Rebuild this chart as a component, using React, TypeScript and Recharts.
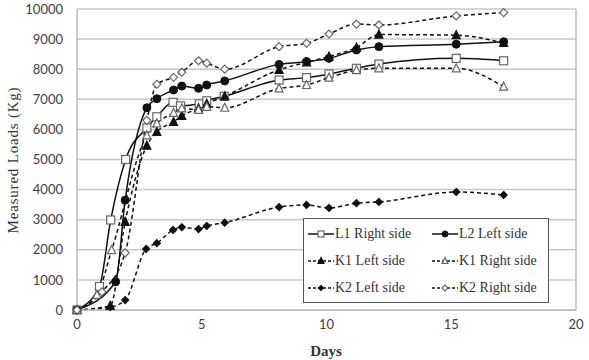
import { LineChart, Line, XAxis, YAxis, CartesianGrid, ReferenceLine } from 'recharts';

const l1RightDays = [0, 0.9, 1.35, 1.95, 2.8, 3.2, 3.85, 4.15, 4.9, 5.2, 5.9, 8.1, 9.2, 10.1, 11.2, 12.1, 15.2, 17.1];
const l1RightLoads = [0, 780, 2990, 5000, 6050, 6420, 6900, 6780, 6850, 6950, 7100, 7640, 7720, 7840, 8030, 8170, 8360, 8280];

const l2LeftDays = [0, 1.55, 1.93, 2.8, 3.2, 3.87, 4.2, 4.87, 5.2, 5.92, 8.1, 9.2, 10.1, 11.2, 12.1, 15.2, 17.1];
const l2LeftLoads = [0, 940, 3650, 6720, 7020, 7310, 7440, 7365, 7475, 7610, 8160, 8250, 8360, 8640, 8750, 8830, 8910];

const k1LeftDays = [0, 1.33, 1.93, 2.8, 3.2, 3.87, 4.2, 4.87, 5.2, 5.92, 8.1, 9.2, 10.1, 11.2, 12.1, 15.2, 17.1];
const k1LeftLoads = [0, 140, 2930, 5460, 5920, 6250, 6450, 6700, 6850, 7100, 7980, 8230, 8420, 8720, 9150, 9130, 8870];

const k1RightDays = [0, 0.8, 1.39, 2.8, 3.2, 3.87, 4.2, 4.87, 5.2, 5.92, 8.1, 9.2, 10.1, 11.2, 12.1, 15.2, 17.1];
const k1RightLoads = [0, 500, 1990, 5800, 6200, 6550, 6700, 6650, 6750, 6720, 7360, 7475, 7720, 7970, 8030, 8030, 7420];

const k2LeftDays = [0, 1.33, 1.93, 2.77, 3.2, 3.85, 4.2, 4.87, 5.2, 5.92, 8.1, 9.2, 10.1, 11.2, 12.1, 15.2, 17.1];
const k2LeftLoads = [0, 100, 330, 2030, 2220, 2660, 2750, 2690, 2790, 2900, 3420, 3490, 3390, 3550, 3590, 3920, 3820];

const k2RightDays = [0, 1.0, 1.93, 2.8, 3.2, 3.87, 4.2, 4.87, 5.2, 5.92, 8.1, 9.2, 10.1, 11.2, 12.1, 15.2, 17.1];
const k2RightLoads = [0, 600, 1900, 6300, 7500, 7730, 7900, 8280, 8200, 8000, 8750, 8860, 9170, 9500, 9470, 9770, 9880];

const xTicks = [0, 5, 10, 15, 20];
const yTicks = [0, 1000, 2000, 3000, 4000, 5000, 6000, 7000, 8000, 9000, 10000];

const pairs = (days: number[], loads: number[]) => days.map((d, i) => ({ day: d, load: loads[i] }));

const series = [
  { name: 'L1 Right side', data: pairs(l1RightDays, l1RightLoads), dash: undefined, shape: 'square', filled: false },
  { name: 'L2 Left side', data: pairs(l2LeftDays, l2LeftLoads), dash: undefined, shape: 'circle', filled: true },
  { name: 'K1 Left side', data: pairs(k1LeftDays, k1LeftLoads), dash: '4 3', shape: 'triangle', filled: true },
  { name: 'K1 Right side', data: pairs(k1RightDays, k1RightLoads), dash: '4 3', shape: 'triangle', filled: false },
  { name: 'K2 Left side', data: pairs(k2LeftDays, k2LeftLoads), dash: '4 3', shape: 'diamond', filled: true },
  { name: 'K2 Right side', data: pairs(k2RightDays, k2RightLoads), dash: '4 3', shape: 'diamond', filled: false },
];

const SERIF = '"Liberation Serif", "DejaVu Serif", serif';

function Marker({ cx, cy, shape, filled, r = 4 }: any) {
  if (cx == null || cy == null) return null;
  const fill = filled ? '#111' : '#fff';
  const stroke = filled ? '#111' : '#666';
  if (shape === 'square') return <rect x={cx - r} y={cy - r} width={2 * r} height={2 * r} fill={fill} stroke={stroke} strokeWidth={1.2} />;
  if (shape === 'circle') return <circle cx={cx} cy={cy} r={r} fill={fill} stroke={stroke} />;
  if (shape === 'triangle')
    return <polygon points={`${cx},${cy - r - 0.5} ${cx + r},${cy + r - 0.5} ${cx - r},${cy + r - 0.5}`} fill={fill} stroke={stroke} strokeWidth={1.2} />;
  const d = filled ? r - 0.5 : r;
  return <polygon points={`${cx},${cy - d} ${cx + d},${cy} ${cx},${cy + d} ${cx - d},${cy}`} fill={fill} stroke={stroke} strokeWidth={1.2} />;
}

function LegendBox() {
  return (
    <div style={{ position: 'absolute', left: 303, top: 218, border: '1.5px solid #555', background: '#fff', width: 246, height: 85, boxSizing: 'border-box', padding: '4px 0 0 4px' }}>
      <div style={{ display: 'grid', gridTemplateColumns: '124px 120px', rowGap: 5 }}>
        {series.map((s) => (
          <div key={s.name} style={{ display: 'flex', alignItems: 'center', height: 22 }}>
            <svg width={26} height={12}>
              <line x1={0} y1={6} x2={26} y2={6} stroke="#111" strokeWidth={1.5} strokeDasharray={s.dash ? '3 2' : undefined} />
              <Marker cx={13} cy={6} shape={s.shape} filled={s.filled} r={3} />
            </svg>
            <span style={{ fontFamily: SERIF, fontSize: 14, color: '#333', marginLeft: 1, whiteSpace: 'nowrap' }}>{s.name}</span>
          </div>
        ))}
      </div>
    </div>
  );
}

export default function App() {
  return (
    <div style={{ position: 'absolute', left: 0, top: 0, width: 589, height: 360, background: '#fff' }}>
      <LineChart width={589} height={360} margin={{ top: 9, right: 13, left: 0, bottom: 0 }}>
        <CartesianGrid vertical={false} stroke="#c8c8c8" strokeWidth={1.5} />
        <XAxis
          type="number"
          dataKey="day"
          domain={[0, 20]}
          ticks={xTicks}
          height={50}
          tickLine={false}
          axisLine={{ stroke: '#bbb', strokeWidth: 1.5 }}
          tick={{ fontSize: 13, fill: '#404040', fontFamily: 'Lato' }}
          tickMargin={4}
          label={{
            content: () => (
              <text x={326} y={356} textAnchor="middle" fontFamily={SERIF} fontSize={15} fontWeight="bold" fill="#333">Days</text>
            ),
          }}
        />
        <YAxis
          type="number"
          dataKey="load"
          domain={[0, 10000]}
          ticks={yTicks}
          width={77}
          tickLine={false}
          axisLine={{ stroke: '#bbb', strokeWidth: 1.5 }}
          tick={{ fontSize: 13, fill: '#404040', fontFamily: 'Lato' }}
          tickMargin={8}
          label={{
            content: () => (
              <text x={18} y={160} transform="rotate(-90 18 160)" textAnchor="middle" fontFamily={SERIF} fontSize={15} letterSpacing={0.8} fill="#333">
                Measured Loads (Kg)
              </text>
            ),
          }}
        />
        <ReferenceLine x={20} stroke="#bbb" strokeWidth={1.5} />
        {series.map((s) => (
          <Line
            key={s.name}
            data={s.data}
            dataKey="load"
            name={s.name}
            type="monotone"
            stroke="#111"
            strokeWidth={1.5}
            strokeDasharray={s.dash}
            dot={(p: any) => <Marker key={`${s.name}-${p.index}`} cx={p.cx} cy={p.cy} shape={s.shape} filled={s.filled} />}
            isAnimationActive={false}
          />
        ))}
      </LineChart>
      <LegendBox />
    </div>
  );
}
